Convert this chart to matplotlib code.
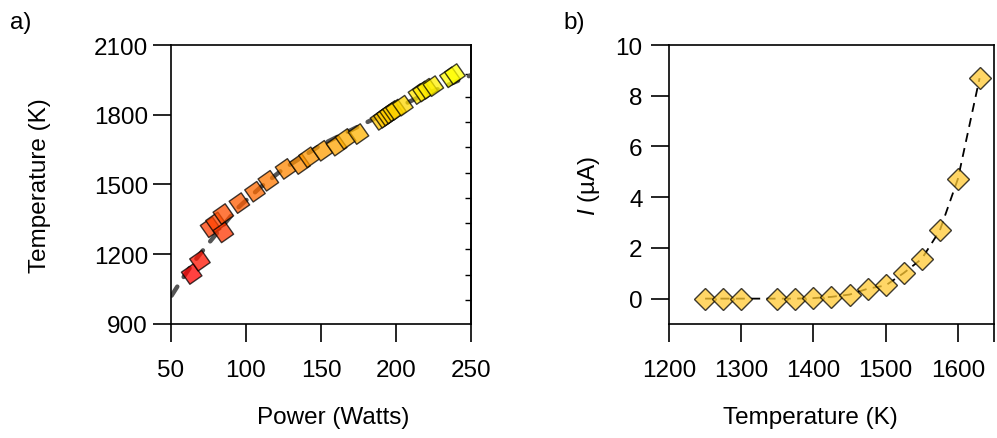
import numpy as np
import matplotlib
matplotlib.use("Agg")
import matplotlib.pyplot as plt

plt.rcParams["font.family"] = ["Liberation Sans", "DejaVu Sans"]
plt.rcParams["mathtext.fontset"] = "custom"
plt.rcParams["mathtext.rm"] = "Liberation Sans"
plt.rcParams["mathtext.it"] = "Liberation Sans:italic"

FS = 17.5

# panel a) measured points
power = [63.8, 69.3, 76.4, 80.0, 84.9, 84.9, 95.6, 106.0, 114.9, 126.4, 136.0,
         142.0, 151.0, 160.4, 166.4, 175.0, 189.7, 192.0, 194.0, 196.0, 198.0,
         200.0, 204.6, 215.0, 218.0, 220.9, 224.9, 236.0, 239.3]
temp = [1115, 1172, 1316, 1337, 1373, 1294, 1420, 1469, 1516, 1567, 1588,
        1617, 1645, 1667, 1696, 1717, 1778, 1787, 1797, 1806, 1816,
        1822, 1839, 1889, 1900, 1912, 1923, 1961, 1975]

# panel a) fit curve (read off the dashed line)
fit_power = [50.4, 56.0, 65.0, 73.8, 93.8, 110.0, 124.9, 150.0, 180.4, 215.0, 249.3, 252.0]
fit_temp = [1022, 1079, 1165, 1237, 1395, 1490, 1567, 1670, 1767, 1875, 1968, 1975]

# right-hand minor ticks of panel a)
right_ticks = [1975, 1878, 1768, 1660, 1550, 1441, 1333, 1223, 1112, 1004]

# panel b)
temp_b = [1250, 1275, 1300, 1350, 1375, 1400, 1425, 1450, 1475, 1500,
          1525, 1550, 1575, 1600, 1630]
current = [0.0, 0.0, 0.0, 0.0, 0.0, 0.02, 0.07, 0.16, 0.39, 0.52,
           1.01, 1.57, 2.69, 4.72, 8.69]

fig = plt.figure(figsize=(9.97, 4.39), dpi=100)
ax1 = fig.add_axes([0.1715, 0.2597, 0.3009, 0.6355])
ax2 = fig.add_axes([0.671, 0.2597, 0.326, 0.6355])

for ax in (ax1, ax2):
    for s in ax.spines.values():
        s.set_linewidth(1.2)
    ax.tick_params(direction="out", length=13, width=1.2, labelsize=FS,
                   right=False, top=False)
    ax.tick_params(axis="x", pad=12)

# ---- a)
ax1.plot(fit_power, fit_temp, color="#555555", lw=3.2, dashes=(2.4, 2.6),
         dash_capstyle="round", zorder=1)
ax1.scatter(power, temp, c=temp, cmap="autumn", vmin=1110, vmax=1975,
            marker=(4, 0, -10), s=225, alpha=0.75, edgecolors="black",
            linewidths=1.0, zorder=2)
ax1.set_xlim(50, 250)
ax1.set_ylim(900, 2100)
ax1.set_xticks([50, 100, 150, 200, 250])
ax1.set_yticks([900, 1200, 1500, 1800, 2100])
ax1.tick_params(axis="y", pad=3.5)
sec = ax1.secondary_yaxis("right")
sec.set_yticks(right_ticks)
sec.tick_params(direction="in", length=4, width=1.0, labelright=False)
sec.spines["right"].set_linewidth(1.2)
ax1.set_xlabel("Power (Watts)", fontsize=FS)
ax1.xaxis.set_label_coords(0.54, -0.295)
ax1.set_ylabel("Temperature (K)", fontsize=FS)
ax1.yaxis.set_label_coords(-0.40, 0.5)

# ---- b)
ax2.plot(temp_b, current, color="black", lw=1.3, dashes=(5, 3.5), zorder=1)
ax2.plot(temp_b, current, ls="none", marker="D", ms=11, mfc="#ffc933",
         mec="black", mew=1.0, alpha=0.75, zorder=2)
ax2.set_xlim(1200, 1650)
ax2.set_ylim(-1, 10)
ax2.set_xticks([1200, 1300, 1400, 1500, 1600, 1650])
ax2.set_xticklabels(["1200", "1300", "1400", "1500", "1600", ""])
ax2.set_yticks([0, 2, 4, 6, 8, 10])
ax2.tick_params(axis="y", pad=6)
ax2.set_xlabel("Temperature (K)", fontsize=FS)
ax2.xaxis.set_label_coords(0.434, -0.295)
ax2.set_ylabel(r"$\mathit{I}$ (µA)", fontsize=FS)
ax2.yaxis.set_label_coords(-0.205, 0.5)

fig.text(0.010, 0.935, "a)", fontsize=FS)
fig.text(0.565, 0.935, "b)", fontsize=FS)

fig.savefig("out.png", dpi=100)
